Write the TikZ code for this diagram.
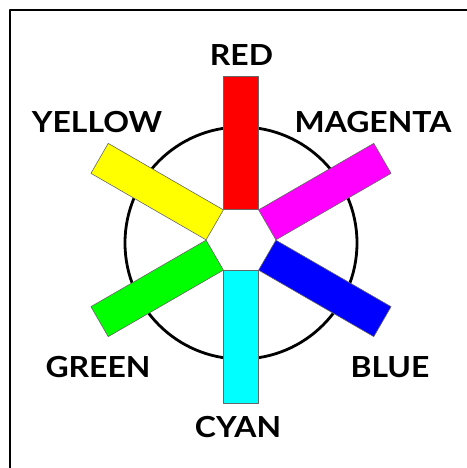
\documentclass[tikz,border=0pt]{standalone}
\usepackage{fontspec}
\setmainfont{Lato}[FakeStretch=1.1]
\definecolor{cred}{RGB}{255,0,0}
\definecolor{cmagenta}{RGB}{255,0,255}
\definecolor{cblue}{RGB}{0,0,255}
\definecolor{ccyan}{RGB}{0,255,255}
\definecolor{cgreen}{RGB}{0,255,0}
\definecolor{cyellow}{RGB}{255,255,0}
\begin{document}
\begin{tikzpicture}[x=1pt,y=1pt,line join=round]
			\tikzset{bar/.style={draw=gray!80!black,line width=0.6pt,minimum width=133pt,minimum height=34.6pt,inner sep=0pt,anchor=west},
				lbl/.style={font=\bfseries\fontsize{29}{29}\selectfont,inner sep=0pt}}
			\def \rin{30}
			\useasboundingbox (-241,-228) rectangle (225,240);
			\draw[line width=1.8pt] (-231,-240)--(-231,230)--(240,230);
			\draw[line width=2.8pt] (0,-3) circle (116);
			\foreach \a/\c in {90/red,30/magenta,-30/blue,-90/cyan,-150/green,150/yellow}
			\node[bar,fill=c\c,rotate=\a] (\c) at (\a:\rin) {};
			\node[lbl] (lred) at (0.5,185) {RED};
			\node[lbl] (lmagenta) at (132,118) {MAGENTA};
			\node[lbl] (lyellow) at (-144,118) {YELLOW};
			\node[lbl] (lgreen) at (-143,-127) {GREEN};
			\node[lbl] (lblue) at (149,-127) {BLUE};
			\node[lbl] (lcyan) at (-3,-187) {CYAN};
		\end{tikzpicture}
\end{document}
